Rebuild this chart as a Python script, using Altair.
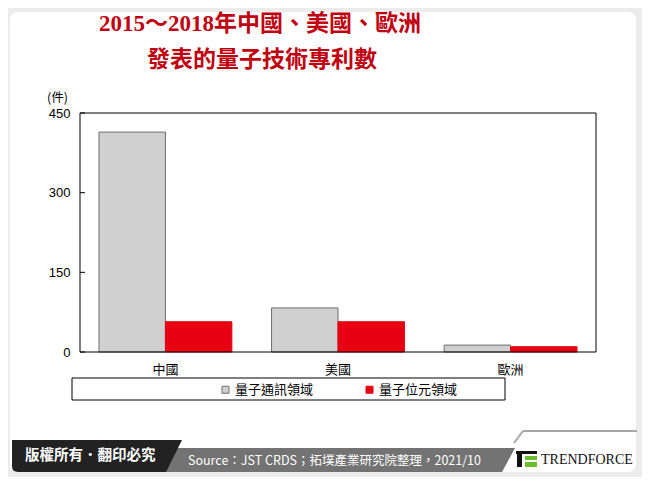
import altair as alt
import pandas as pd

# ---- data ----
regions = ["中國", "美國", "歐洲"]
series_names = ["量子通訊領域", "量子位元領域"]
comm_values = [414, 83, 13]
qubit_values = [57, 57, 10]
y_ticks = [0, 150, 300, 450]

title_line1 = "2015～2018年中國、美國、歐洲"
title_line2 = "發表的量子技術專利數"
unit_label = "(件)"
source_text = "Source：JST CRDS；拓墣產業研究院整理，2021/10"
copyright_text = "版權所有．翻印必究"
brand_text = "TRENDFORCE"

rows = []
for r, a, b in zip(regions, comm_values, qubit_values):
    rows.append({"region": r, "series": series_names[0], "value": a})
    rows.append({"region": r, "series": series_names[1], "value": b})
df = pd.DataFrame(rows)
tick_df = pd.DataFrame({"value": y_ticks})
one = pd.DataFrame({"d": [0]})

W, H = 516, 239
CJK = "Noto Sans CJK TC"

y_axis = alt.Axis(values=y_ticks, title=None, ticks=False, domain=False, grid=False,
                  labelPadding=10, labelFont="Liberation Sans", labelFontSize=13,
                  labelColor="#000000", zindex=2)
y_scale = alt.Scale(domain=[0, 450], nice=False, zero=True)

base = alt.Chart(one)

# card background
card = base.mark_rect(fill="#ffffff", cornerRadius=8).encode(
    x=alt.value(-70), x2=alt.value(556), y=alt.value(-101), y2=alt.value(359))

# footer
tab_path = "M -1 -0.188 L 1 -0.188 L 0.812 0.188 L -0.93 0.188 Q -1 0.188 -1 0.118 Z"
bar_path = "M -1 -0.0676 L 1 -0.0676 L 0.927 0.0676 L -1 0.0676 Z"
gray_bar = base.mark_point(shape=bar_path, size=355 * 355, filled=True, opacity=1,
                           strokeWidth=0, color="#737373").encode(
    x=alt.value(257.5), y=alt.value(347))
tab = base.mark_point(shape=tab_path, size=170 * 170, filled=True, opacity=1,
                      strokeWidth=0, color="#222222").encode(
    x=alt.value(17), y=alt.value(343))
tab_txt = base.mark_text(text=copyright_text, font=CJK, fontSize=14.5, fontWeight="bold",
                         color="#ffffff", align="left", baseline="middle").encode(
    x=alt.value(-55), y=alt.value(343))
src_txt = base.mark_text(text=source_text, font="Liberation Sans Narrow, " + CJK, fontSize=12.5,
                         color="#ffffff", align="left", baseline="middle").encode(
    x=alt.value(108), y=alt.value(348))
logo_line1 = base.mark_rule(color="#a8a8a8", strokeWidth=2).encode(
    x=alt.value(443), x2=alt.value(557), y=alt.value(318), y2=alt.value(318))
logo_line2 = base.mark_rule(color="#a8a8a8", strokeWidth=2).encode(
    x=alt.value(443), x2=alt.value(434), y=alt.value(318), y2=alt.value(330))
icon_top = base.mark_rect(color="#111111").encode(
    x=alt.value(436), x2=alt.value(457), y=alt.value(338), y2=alt.value(341))
icon_stem = base.mark_rect(color="#111111").encode(
    x=alt.value(437), x2=alt.value(442), y=alt.value(341), y2=alt.value(354))
icon_g1 = base.mark_rect(color="#6cbd2c").encode(
    x=alt.value(445), x2=alt.value(457), y=alt.value(343), y2=alt.value(347))
icon_g2 = base.mark_rect(color="#6cbd2c").encode(
    x=alt.value(445), x2=alt.value(457), y=alt.value(349), y2=alt.value(354))
brand = base.mark_text(text=brand_text, font="Liberation Serif", fontSize=14,
                       color="#111111", align="left", baseline="middle").encode(
    x=alt.value(461), y=alt.value(347))

# titles
t1 = base.mark_text(text=title_line1, font="Liberation Serif, " + CJK, fontSize=23,
                    fontWeight="bold", color="#c00010", align="center", baseline="middle").encode(
    x=alt.value(180), y=alt.value(-89))
t2 = base.mark_text(text=title_line2, font="Liberation Serif, " + CJK, fontSize=23,
                    fontWeight="bold", color="#c00010", align="center", baseline="middle").encode(
    x=alt.value(182), y=alt.value(-53))
unit = base.mark_text(text=unit_label, font=CJK, fontSize=12.5, color="#000000",
                      align="right", baseline="middle").encode(
    x=alt.value(-12), y=alt.value(-15))

# legend frame
legend_box = base.mark_rect(fill="#ffffff", stroke="#000000", strokeWidth=1).encode(
    x=alt.value(-8), x2=alt.value(425), y=alt.value(265), y2=alt.value(287))

legend_spec = dict(orient="none", legendX=139, legendY=270, direction="horizontal",
                   symbolType="square", symbolSize=49, symbolStrokeWidth=1,
                   labelFont=CJK, labelFontSize=13, labelColor="#000000",
                   labelOffset=3, columnPadding=49, padding=0, zindex=3)

# bars
bars = alt.Chart(df).mark_bar(strokeWidth=1).encode(
    x=alt.X("region:N", sort=regions, title=None,
            scale=alt.Scale(paddingInner=0.23, paddingOuter=0.11),
            axis=alt.Axis(ticks=False, domain=False, labelAngle=0, labelPadding=11,
                          labelFont=CJK, labelFontSize=13, labelColor="#000000", zindex=2)),
    xOffset=alt.XOffset("series:N", sort=series_names,
                        scale=alt.Scale(paddingInner=0, paddingOuter=0)),
    y=alt.Y("value:Q", scale=y_scale, axis=y_axis),
    color=alt.Color("series:N", sort=series_names, title=None,
                    scale=alt.Scale(domain=series_names, range=["#d0d0d0", "#e60012"]),
                    legend=alt.Legend(**legend_spec)),
    stroke=alt.Stroke("series:N", sort=series_names, title=None,
                      scale=alt.Scale(domain=series_names, range=["#6e6e6e", "#e60012"]),
                      legend=alt.Legend(**legend_spec)),
)

ticks = alt.Chart(tick_df).mark_rule(color="#000000", strokeWidth=1).encode(
    y=alt.Y("value:Q", scale=y_scale, axis=y_axis),
    x=alt.value(0), x2=alt.value(5))

frame = base.mark_rect(fill=None, stroke="#000000", strokeWidth=1).encode(
    x=alt.value(0), x2=alt.value(W), y=alt.value(0), y2=alt.value(H))

chart = alt.layer(
    card, gray_bar, tab, tab_txt, src_txt, logo_line1, logo_line2,
    icon_top, icon_stem, icon_g1, icon_g2, brand, t1, t2, unit, legend_box,
    bars, ticks, frame
).properties(
    width=W, height=H,
    autosize=alt.AutoSizeParams(type="none"),
    padding={"left": 72, "top": 105, "right": 46, "bottom": 125},
    background="#ececec",
).configure_view(stroke=None)

chart.save("out.html", embed_options={"renderer": "svg", "actions": False})
